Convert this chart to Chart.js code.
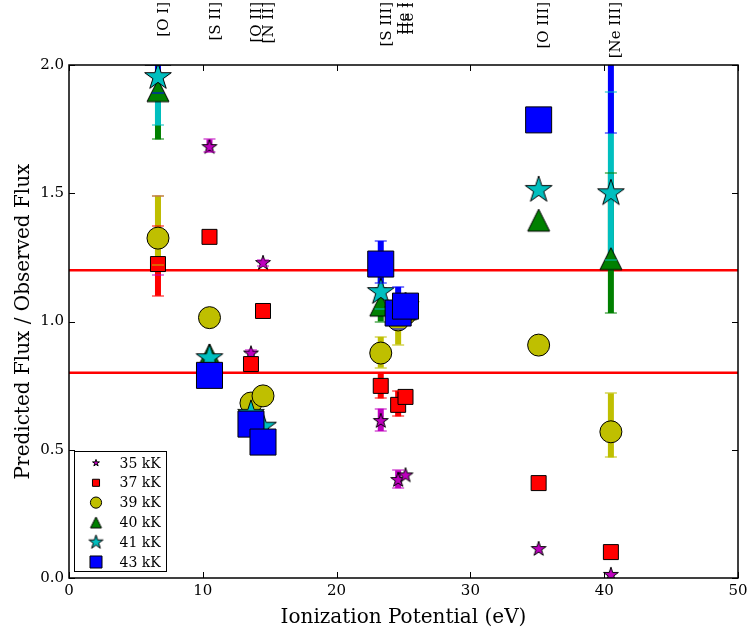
<!DOCTYPE html>
<html>
<head>
<meta charset="utf-8">
<script src="https://cdn.jsdelivr.net/npm/chart.js@4.4.0/dist/chart.umd.min.js"></script>
<style>
    html, body { margin: 0; padding: 0; background: #fff; }
</style>
</head>
<body>
<canvas id="chart" width="751" height="634"></canvas>
<script>
// emission lines, labelled along the top, and the ionization potential of each (eV)
const LINE_NAMES = ['[O I]', '[S II]', '[O II]', '[N II]', '[S III]', 'He I', 'He I', '[O III]', '[Ne III]'];
const LINE_LABEL_X = [6.55, 10.4, 13.5, 14.4, 23.2, 24.5, 24.85, 34.95, 40.35];
const POINT_X = [6.65, 10.5, 13.6, 14.5, 23.3, 24.6, 25.15, 35.1, 40.5];

// predicted / observed flux per model temperature, with error bar ends (null = none)
const FLUX_35 = [1.32, 1.68, 0.875, 1.228, 0.612, 0.382, 0.40, 0.113, 0.012];
const LO_35 = [1.18, 1.66, 0.86, 1.215, 0.573, 0.35, null, null, null];
const HI_35 = [1.49, 1.71, 0.89, 1.24, 0.66, 0.42, null, null, null];

const FLUX_37 = [1.224, 1.33, 0.834, 1.041, 0.749, 0.675, 0.706, 0.37, 0.101];
const LO_37 = [1.10, null, null, null, 0.70, 0.63, null, null, null];
const HI_37 = [1.372, null, null, null, 0.80, 0.73, null, null, null];

const FLUX_39 = [1.325, 1.015, 0.682, 0.71, 0.877, 1.006, 1.03, 0.908, 0.57];
const LO_39 = [1.22, null, null, null, 0.82, 0.91, null, null, 0.47];
const HI_39 = [1.49, null, null, null, 0.94, 1.10, null, null, 0.72];

const FLUX_40 = [1.90, 0.87, 0.63, 0.58, 1.064, 1.03, 1.05, 1.395, 1.245];
const LO_40 = [1.71, null, null, null, 1.0, null, null, null, 1.033];
const HI_40 = [2.10, null, null, null, 1.13, null, null, null, 1.58];

const FLUX_41 = [1.953, 0.857, 0.64, 0.59, 1.115, 1.04, 1.06, 1.513, 1.50];
const LO_41 = [1.766, null, null, null, 1.05, null, null, null, 1.24];
const HI_41 = [2.15, null, null, null, 1.18, null, null, null, 1.895];

const FLUX_43 = [2.05, 0.79, 0.60, 0.53, 1.224, 1.033, 1.06, 1.786, 2.10];
const LO_43 = [1.89, null, null, null, 1.15, 0.97, null, null, 1.735];
const HI_43 = [2.20, null, null, null, 1.314, 1.135, null, null, 2.50];

const X_TICKS = [0, 10, 20, 30, 40, 50];
const Y_TICKS = [0, 0.5, 1.0, 1.5, 2.0];
const LIMIT_LINES = [1.2, 0.8];

const FONT = "'DejaVu Serif', 'Liberation Serif', serif";

// marker images that Chart.js has no shape for
function starImage(R, fill) {
    const s = Math.ceil(2 * R + 4);
    const c = document.createElement('canvas');
    c.width = s; c.height = s;
    const g = c.getContext('2d');
    g.translate(s / 2, s / 2);
    g.beginPath();
    for (let i = 0; i < 10; i++) {
        const r = i % 2 ? R * 0.382 : R;
        const a = -Math.PI / 2 + i * Math.PI / 5;
        g.lineTo(r * Math.cos(a), r * Math.sin(a));
    }
    g.closePath();
    g.fillStyle = fill; g.fill();
    g.lineWidth = 1; g.strokeStyle = '#000'; g.stroke();
    return c;
}

function triangleImage(h, fill) {
    const s = Math.ceil(2 * h + 4);
    const c = document.createElement('canvas');
    c.width = s; c.height = s;
    const g = c.getContext('2d');
    g.translate(s / 2, s / 2);
    g.beginPath();
    g.moveTo(0, -h); g.lineTo(-h, h); g.lineTo(h, h);
    g.closePath();
    g.fillStyle = fill; g.fill();
    g.lineWidth = 1; g.strokeStyle = '#000'; g.stroke();
    return c;
}

const SERIES = [
    { label: '35 kK', y: FLUX_35, lo: LO_35, hi: HI_35, color: '#bf00bf',
      style: starImage(7.8, '#bf00bf'), radius: 8, legend: starImage(3.6, '#bf00bf') },
    { label: '37 kK', y: FLUX_37, lo: LO_37, hi: HI_37, color: '#ff0000',
      style: 'rect', radius: 10.6, legendRadius: 5 },
    { label: '39 kK', y: FLUX_39, lo: LO_39, hi: HI_39, color: '#bfbf00',
      style: 'circle', radius: 11, legendRadius: 5.6 },
    { label: '40 kK', y: FLUX_40, lo: LO_40, hi: HI_40, color: '#008000',
      style: triangleImage(11, '#008000'), radius: 11, legend: triangleImage(5.5, '#008000') },
    { label: '41 kK', y: FLUX_41, lo: LO_41, hi: HI_41, color: '#00bfbf',
      style: starImage(14, '#00bfbf'), radius: 14, legend: starImage(7.4, '#00bfbf') },
    { label: '43 kK', y: FLUX_43, lo: LO_43, hi: HI_43, color: '#0000ff',
      style: 'rect', radius: 18.4, legendRadius: 8.5 },
];

function inArea(ctx, a) {
    ctx.beginPath();
    ctx.rect(a.left, a.top, a.right - a.left, a.bottom - a.top);
    ctx.clip();
}

// error bars: all bars under the markers, caps over each series' markers
const errorBars = {
    id: 'errorBars',
    beforeDatasetDraw(chart, args) {
        if (args.index !== 2) return;
        const { ctx, chartArea, scales: { x, y } } = chart;
        ctx.save();
        inArea(ctx, chartArea);
        SERIES.forEach(s => {
            ctx.fillStyle = s.color;
            POINT_X.forEach((px, j) => {
                if (s.lo[j] == null) return;
                const xp = x.getPixelForValue(px);
                const top = y.getPixelForValue(s.hi[j]);
                const bot = y.getPixelForValue(s.lo[j]);
                ctx.fillRect(xp - 3, top, 6, bot - top);
            });
        });
        ctx.restore();
    },
    afterDatasetDraw(chart, args) {
        const s = SERIES[args.index - 2];
        if (!s) return;
        const { ctx, chartArea, scales: { x, y } } = chart;
        ctx.save();
        inArea(ctx, chartArea);
        ctx.fillStyle = s.color;
        ctx.globalAlpha = 0.5;
        POINT_X.forEach((px, j) => {
            if (s.lo[j] == null) return;
            const xp = x.getPixelForValue(px);
            [s.lo[j], s.hi[j]].forEach(v => {
                const yp = Math.round(y.getPixelForValue(v));
                ctx.fillRect(xp - 6, yp - 1, 12, 2);
            });
        });
        ctx.restore();
    },
};

// matplotlib-style frame with inward ticks on all four sides
const frame = {
    id: 'frame',
    afterDatasetsDraw(chart) {
        const { ctx, chartArea: a, scales: { x, y } } = chart;
        ctx.save();
        ctx.strokeStyle = '#000';
        ctx.lineWidth = 1;
        ctx.beginPath();
        X_TICKS.forEach(v => {
            const p = Math.round(x.getPixelForValue(v)) + 0.5;
            ctx.moveTo(p, a.bottom); ctx.lineTo(p, a.bottom - 6);
            ctx.moveTo(p, a.top); ctx.lineTo(p, a.top + 6);
        });
        Y_TICKS.forEach(v => {
            const p = Math.round(y.getPixelForValue(v)) + 0.5;
            ctx.moveTo(a.left, p); ctx.lineTo(a.left + 6, p);
            ctx.moveTo(a.right, p); ctx.lineTo(a.right - 6, p);
        });
        ctx.stroke();
        ctx.lineWidth = 1.5;
        ctx.strokeRect(a.left, a.top, a.right - a.left, a.bottom - a.top);
        ctx.restore();
    },
};

// rotated line names above the plot
const lineNames = {
    id: 'lineNames',
    afterDraw(chart) {
        const { ctx, scales: { x } } = chart;
        ctx.save();
        ctx.font = '15px ' + FONT;
        ctx.fillStyle = '#000';
        ctx.textAlign = 'right';
        ctx.textBaseline = 'top';
        LINE_NAMES.forEach((name, i) => {
            ctx.save();
            ctx.translate(x.getPixelForValue(LINE_LABEL_X[i]), 2);
            ctx.rotate(-Math.PI / 2);
            ctx.fillText(name, 0, 0);
            ctx.restore();
        });
        ctx.restore();
    },
};

// legend box in the lower left corner
const legendBox = {
    id: 'legendBox',
    afterDraw(chart) {
        const { ctx } = chart;
        const left = 74.5, top = 451.5, w = 92, h = 120;
        ctx.save();
        ctx.fillStyle = '#fff';
        ctx.fillRect(left, top, w, h);
        ctx.strokeStyle = '#000';
        ctx.lineWidth = 1;
        ctx.strokeRect(left, top, w, h);
        ctx.font = '14px ' + FONT;
        ctx.textBaseline = 'middle';
        SERIES.forEach((s, i) => {
            const cy = top + 11.5 + i * 19.8;
            const cx = left + 21.5;
            if (s.legend) {
                ctx.drawImage(s.legend, cx - s.legend.width / 2, cy - s.legend.height / 2);
            } else {
                ctx.fillStyle = s.color;
                ctx.strokeStyle = '#000';
                ctx.beginPath();
                if (s.style === 'circle') {
                    ctx.arc(cx, cy, s.legendRadius, 0, Math.PI * 2);
                } else {
                    const r = s.legendRadius * Math.SQRT1_2;
                    ctx.rect(cx - r, cy - r, 2 * r, 2 * r);
                }
                ctx.fill();
                ctx.stroke();
            }
            ctx.fillStyle = '#000';
            ctx.fillText(s.label, left + 45, cy + 1);
        });
        ctx.restore();
    },
};

const datasets = LIMIT_LINES.map(v => ({
    label: 'limit ' + v,
    data: [{ x: 0, y: v }, { x: 50, y: v }],
    showLine: true,
    borderColor: '#ff0000',
    borderWidth: 2.5,
    pointRadius: 0,
    order: 10,
    clip: 0,
})).concat(SERIES.map((s, i) => ({
    label: s.label,
    data: POINT_X.map((px, j) => ({ x: px, y: s.y[j] })),
    pointStyle: s.style,
    pointRadius: s.radius,
    backgroundColor: s.color,
    borderColor: '#000',
    borderWidth: 1,
    order: 6 - i,
    clip: 0,
})));

new Chart(document.getElementById('chart'), {
    type: 'scatter',
    data: { datasets },
    plugins: [errorBars, frame, lineNames, legendBox],
    options: {
        responsive: false,
        animation: false,
        events: [],
        layout: { autoPadding: false, padding: { left: 0, top: 65, right: 13, bottom: 0 } },
        plugins: { legend: { display: false }, tooltip: { enabled: false } },
        scales: {
            x: {
                type: 'linear',
                min: 0, max: 50,
                afterFit: (s) => { s.height = 56; s.paddingLeft = 0; s.paddingRight = 0; },
                afterBuildTicks: (s) => { s.ticks = X_TICKS.map(v => ({ value: v })); },
                grid: { display: false, drawTicks: false },
                border: { display: false },
                ticks: { color: '#000', font: { family: FONT, size: 15 }, padding: 4, maxRotation: 0 },
                title: {
                    display: true, text: 'Ionization Potential (eV)', color: '#000',
                    font: { family: FONT, size: 20 }, padding: { top: 0, bottom: 4 },
                },
            },
            y: {
                type: 'linear',
                min: 0, max: 2,
                afterFit: (s) => { s.width = 69; s.paddingTop = 0; s.paddingBottom = 0; },
                afterBuildTicks: (s) => { s.ticks = Y_TICKS.map(v => ({ value: v })); },
                grid: { display: false, drawTicks: false },
                border: { display: false },
                ticks: {
                    color: '#000', font: { family: FONT, size: 15 }, padding: 5,
                    callback: (v) => v.toFixed(1),
                },
                title: {
                    display: true, text: 'Predicted Flux / Observed Flux', color: '#000',
                    font: { family: FONT, size: 20 }, padding: { top: 12, bottom: 0 },
                },
            },
        },
    },
});
</script>
</body>
</html>
